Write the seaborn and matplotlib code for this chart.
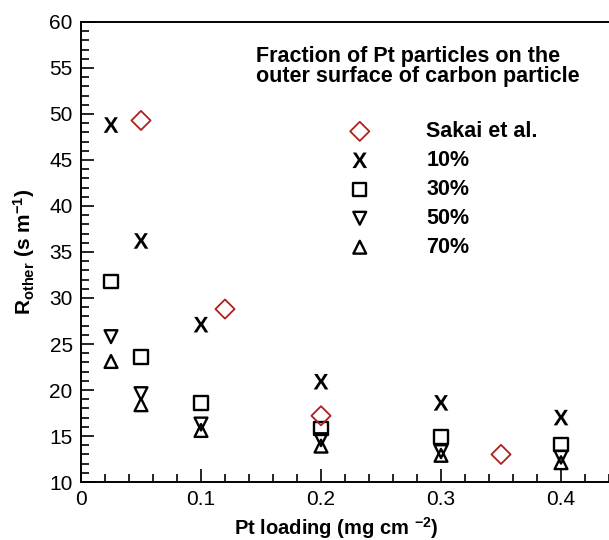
import matplotlib
matplotlib.use('Agg')
import matplotlib.pyplot as plt
import seaborn as sns
from matplotlib.ticker import MultipleLocator, FixedLocator, FixedFormatter

sns.set_style('ticks')
plt.rcParams['font.family'] = ['Liberation Sans', 'DejaVu Sans']
plt.rcParams['mathtext.fontset'] = 'custom'
plt.rcParams['mathtext.rm'] = 'Liberation Sans'
plt.rcParams['mathtext.bf'] = 'Liberation Sans:bold'
plt.rcParams['mathtext.it'] = 'Liberation Sans:italic'
plt.rcParams['text.color'] = 'black'
plt.rcParams['axes.labelcolor'] = 'black'
plt.rcParams['xtick.color'] = 'black'
plt.rcParams['ytick.color'] = 'black'

# ---- data ----
sakai_x = [0.05, 0.12, 0.2, 0.35]
sakai_y = [49.3, 28.8, 17.2, 13.0]
loading = [0.025, 0.05, 0.1, 0.2, 0.3, 0.4]
r10 = [48.8, 36.2, 27.1, 20.9, 18.6, 17.0]
r30 = [31.8, 23.6, 18.6, 15.8, 14.9, 14.1]
r50 = [25.8, 19.6, 16.3, 14.6, 13.3, 12.7]
r70 = [23.1, 18.4, 15.6, 13.9, 12.9, 12.1]
labels = ['Sakai et al.', '10%', '30%', '50%', '70%']
xticks = [0, 0.1, 0.2, 0.3, 0.4]
xticklabels = ['0', '0.1', '0.2', '0.3', '0.4']
yticks = [10, 15, 20, 25, 30, 35, 40, 45, 50, 55, 60]

red = '#b0201c'
black = '#000000'

fig = plt.figure(figsize=(6.09, 5.4), dpi=100)
ax = fig.add_axes([81 / 609, 58 / 540, 534 / 609, 460 / 540])

sns.scatterplot(x=sakai_x, y=sakai_y, marker='D', s=95, facecolor='none',
                edgecolor=red, linewidth=1.3, ax=ax, label=labels[0], zorder=4)
sns.scatterplot(x=loading, y=r10, marker=r'$\mathbf{X}$', s=125, color=black,
                edgecolor='none', linewidth=0, ax=ax, label=labels[1], zorder=3)
sns.scatterplot(x=loading, y=r30, marker='s', s=92, facecolor='none',
                edgecolor=black, linewidth=1.7, ax=ax, label=labels[2], zorder=3)
sns.scatterplot(x=loading, y=r50, marker='v', s=85, facecolor='none',
                edgecolor=black, linewidth=1.7, ax=ax, label=labels[3], zorder=3)
sns.scatterplot(x=loading, y=r70, marker='^', s=85, facecolor='none',
                edgecolor=black, linewidth=1.7, ax=ax, label=labels[4], zorder=3)

ax.set_xlim(0, 0.445)
ax.set_ylim(10, 60)
ax.xaxis.set_major_locator(FixedLocator(xticks))
ax.xaxis.set_major_formatter(FixedFormatter(xticklabels))
ax.xaxis.set_minor_locator(MultipleLocator(0.02))
ax.yaxis.set_major_locator(FixedLocator(yticks))
ax.yaxis.set_minor_locator(MultipleLocator(1))

for s in ['left', 'bottom', 'top']:
    ax.spines[s].set_linewidth(1.4)
    ax.spines[s].set_color('black')
ax.spines['right'].set_visible(False)

ax.tick_params(which='both', direction='in', top=False, right=False,
               color='black', labelcolor='black', width=1.2)
ax.tick_params(which='major', length=9.5, labelsize=15, pad=6)
ax.tick_params(which='minor', length=5.5)

ax.set_xlabel(r'Pt loading (mg cm $^{\mathbf{-2}}$)', fontsize=14.5,
              fontweight='bold', color='black')
ax.set_ylabel(r'$\mathbf{R_{other}}$ $\mathbf{(s\ m^{-1})}$', fontsize=15,
              color='black')
ax.xaxis.set_label_coords((336 - 81) / 534, -0.072)
ax.yaxis.set_label_coords(-0.082, 0.5)

fig.text(256 / 609, 1 - 46 / 540,
         'Fraction of Pt particles on the\nouter surface of carbon particle',
         ha='left', va='top', fontsize=15.5, fontweight='bold', linespacing=0.95,
         color='black')

leg = ax.legend(loc='upper left', bbox_to_anchor=(349 / 609, 1 - 121 / 540),
                bbox_transform=fig.transFigure, frameon=False, borderpad=0,
                borderaxespad=0, handlelength=1.0, handletextpad=2.6,
                labelspacing=0.37, prop={'weight': 'bold', 'size': 15.5})
for t in leg.get_texts():
    t.set_color('black')

fig.savefig('out.png', dpi=100)
